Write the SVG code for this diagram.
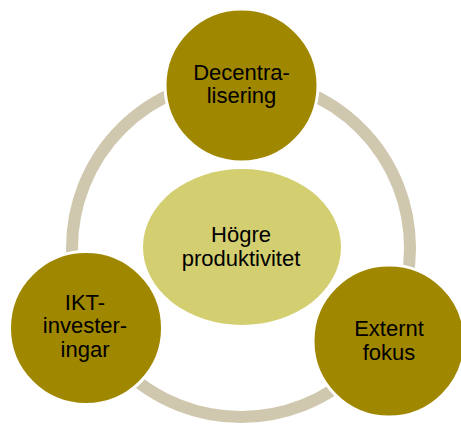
<svg xmlns="http://www.w3.org/2000/svg" width="461" height="425" viewBox="0 0 461 425">
  <style>
    .ring { fill: none; stroke: #cfc7ae; stroke-width: 12; }
    .hub { fill: #d3ce70; }
    .spoke { fill: #a08700; stroke: #ffffff; stroke-width: 3; }
    .label { font-family: "Liberation Sans", Arial, sans-serif; font-size: 22px; fill: #000000; text-anchor: middle; }
  </style>
  <rect width="461" height="425" fill="#ffffff"/>

  <!-- cycle ring linking the three drivers -->
  <g id="connectors">
    <circle class="ring" cx="241" cy="248" r="169"/>
  </g>

  <g id="hub">
    <ellipse class="hub" cx="242" cy="247" rx="99" ry="78"/>
    <text class="label" x="241" y="242">Högre</text>
    <text class="label" x="241" y="266">produktivitet</text>
  </g>

  <g id="decentralisering">
    <circle class="spoke" cx="241.5" cy="85.5" r="76.5"/>
    <text class="label" x="241.5" y="80">Decentra-</text>
    <text class="label" x="241.5" y="103">lisering</text>
  </g>

  <g id="ikt">
    <circle class="spoke" cx="86" cy="328" r="76.5"/>
    <text class="label" x="85" y="310">IKT-</text>
    <text class="label" x="85" y="333">invester-</text>
    <text class="label" x="85" y="357">ingar</text>
  </g>

  <g id="externt-fokus">
    <circle class="spoke" cx="389" cy="341" r="76"/>
    <text class="label" x="389" y="336">Externt</text>
    <text class="label" x="389" y="360">fokus</text>
  </g>
</svg>
